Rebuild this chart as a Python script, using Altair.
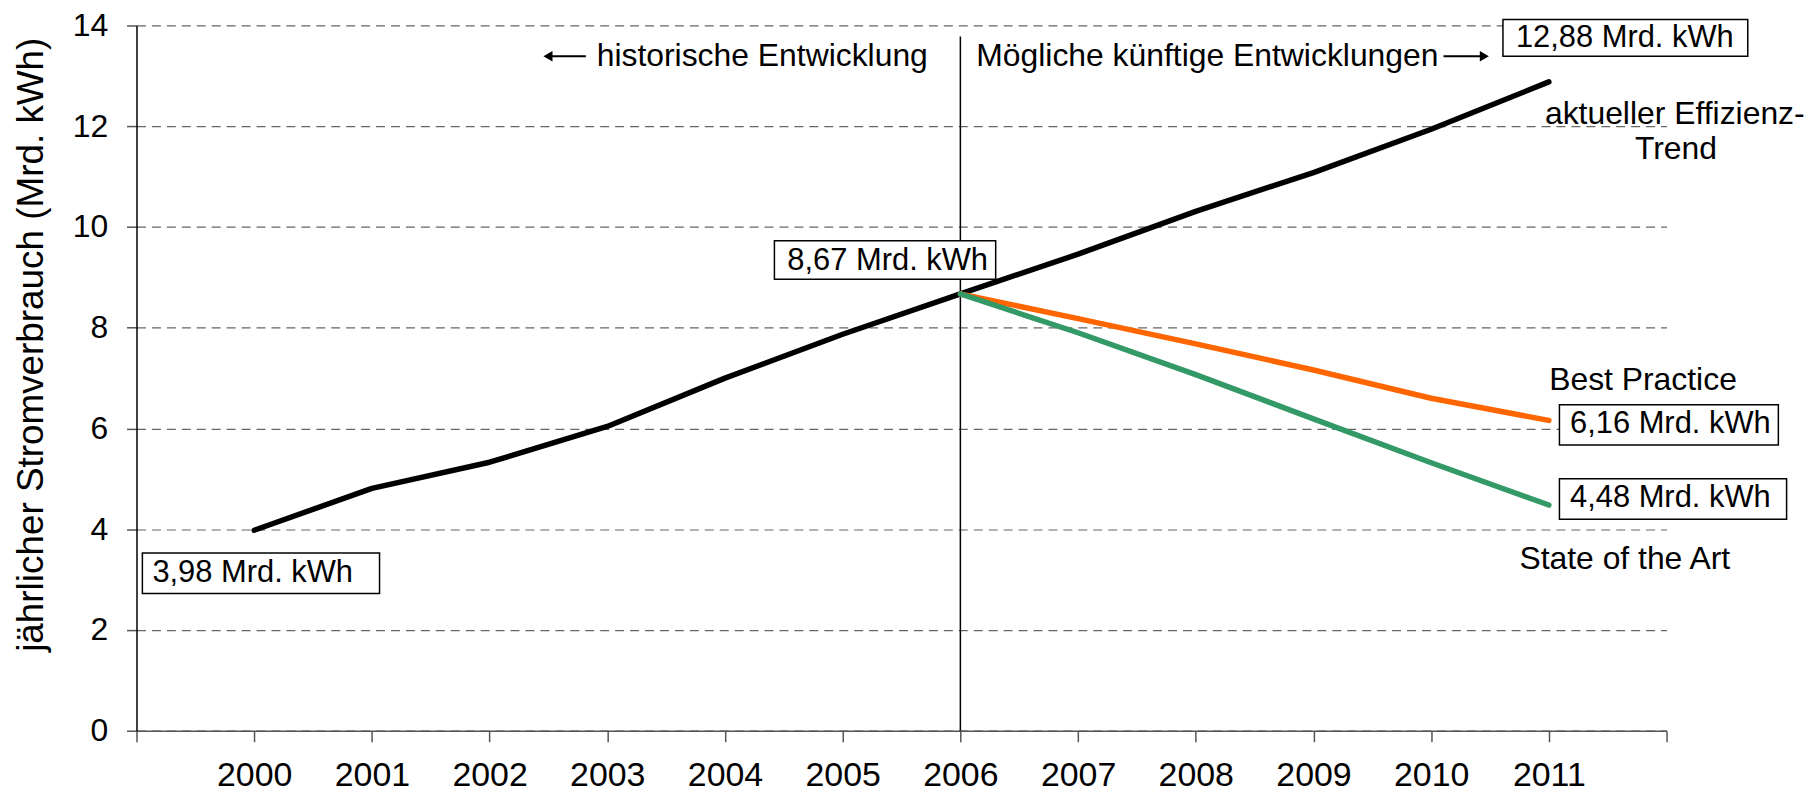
import altair as alt
import pandas as pd

# ---- data ----
years_hist = [2000, 2001, 2002, 2003, 2004, 2005, 2006, 2007, 2008, 2009, 2010, 2011]
trend_vals = [3.98, 4.81, 5.33, 6.04, 7.00, 7.87, 8.67, 9.46, 10.31, 11.08, 11.94, 12.88]
years_future = [2006, 2007, 2008, 2009, 2010, 2011]
best_vals = [8.67, 8.18, 7.68, 7.16, 6.60, 6.16]
art_vals = [8.67, 7.90, 7.07, 6.19, 5.32, 4.48]
series_names = ["Trend", "Best Practice", "State of the Art"]
series_colors = ["#000000", "#FF6600", "#339966"]

y_ticks = [0, 2, 4, 6, 8, 10, 12, 14]
x_ticks = list(range(1999, 2013))

# value boxes (data coordinates)
box_text = ["12,88 Mrd. kWh", "8,67 Mrd. kWh", "6,16 Mrd. kWh", "4,48 Mrd. kWh", "3,98 Mrd. kWh"]
box_x1 = [2010.61, 2004.42, 2011.09, 2011.09, 1999.05]
box_x2 = [2012.69, 2006.30, 2012.95, 2013.02, 2001.065]
box_y1 = [13.39, 8.96, 5.67, 4.196, 2.725]
box_y2 = [14.12, 9.725, 6.47, 5.00, 3.53]
box_tx = [2010.72, 2004.53, 2011.18, 2011.18, 1999.135]
box_ty = [13.76, 9.33, 6.08, 4.61, 3.14]

# centered labels
c_text = ["Best Practice", "State of the Art", "aktueller Effizienz-", "Trend"]
c_x = [2011.80, 2011.645, 2012.07, 2012.08]
c_y = [6.96, 3.41, 12.25, 11.55]

# left-aligned header labels
l_text = ["historische Entwicklung", "Mögliche künftige Entwicklungen"]
l_x = [2002.91, 2006.135]
l_y = [13.40, 13.40]

# arrows
arr_x1 = [2002.496, 2010.105]
arr_x2 = [2002.818, 2010.452]
arr_y = [13.39, 13.39]
arr_tip = [2002.496, 2010.452]
arr_shape = ["triangle-left", "triangle-right"]

# ---- tables ----
rows = []
for yr, v in zip(years_hist, trend_vals):
    rows.append({"year": yr, "value": v, "series": series_names[0], "ord": 0})
for yr, v in zip(years_future, best_vals):
    rows.append({"year": yr, "value": v, "series": series_names[1], "ord": 1})
for yr, v in zip(years_future, art_vals):
    rows.append({"year": yr, "value": v, "series": series_names[2], "ord": 2})
lines_df = pd.DataFrame(rows)

boxes_df = pd.DataFrame({"x1": box_x1, "x2": box_x2, "y1": box_y1, "y2": box_y2,
                         "tx": box_tx, "ty": box_ty, "text": box_text})
center_df = pd.DataFrame({"x": c_x, "y": c_y, "text": c_text})
left_df = pd.DataFrame({"x": l_x, "y": l_y, "text": l_text})
arrow_df = pd.DataFrame({"x1": arr_x1, "x2": arr_x2, "y": arr_y, "tip": arr_tip, "shape": arr_shape})
vline_df = pd.DataFrame({"x": [2006], "y1": [0], "y2": [13.78]})

xscale = alt.Scale(domain=[1999, 2012], nice=False, zero=False)
yscale = alt.Scale(domain=[0, 14], nice=False, zero=True)

FONT = "Liberation Sans"

x_axis = alt.Axis(values=x_ticks, format="d",
                  labelExpr="(datum.value < 2000 || datum.value > 2011) ? '' : datum.label",
                  grid=False, tickSize=11, tickColor="#555555", domainColor="#555555",
                  domainWidth=1.5, tickWidth=1.5,
                  labelFontSize=34, labelColor="black", labelFont=FONT,
                  labelPadding=44, labelBaseline="alphabetic", title=None)

y_axis = alt.Axis(values=y_ticks, format="d", grid=True, gridDash=[9, 6], gridColor="#666666",
                  gridWidth=1.2, tickSize=10, tickColor="#555555", domainColor="black",
                  domainWidth=1.5, tickWidth=1.5,
                  labelFontSize=32, labelColor="black", labelFont=FONT, labelPadding=19,
                  title="jährlicher Stromverbrauch (Mrd. kWh)", titleFontSize=37,
                  titleFontWeight="normal", titleFont=FONT, titleColor="black",
                  titleX=-105, titleY=320, titleAngle=270, titleAlign="center",
                  titleBaseline="middle")

base_lines = alt.Chart(lines_df).mark_line(strokeWidth=5.5, strokeCap="round", strokeJoin="round").encode(
    x=alt.X("year:Q", scale=xscale, axis=x_axis),
    y=alt.Y("value:Q", scale=yscale, axis=y_axis),
    color=alt.Color("series:N", scale=alt.Scale(domain=series_names, range=series_colors), legend=None),
    order=alt.Order("ord:Q"),
    detail="series:N",
)

vline = alt.Chart(vline_df).mark_rule(color="black", strokeWidth=1.5).encode(
    x=alt.X("x:Q", scale=xscale), y=alt.Y("y1:Q", scale=yscale), y2="y2:Q"
)

boxes = alt.Chart(boxes_df).mark_rect(fill="white", stroke="black", strokeWidth=1.5).encode(
    x=alt.X("x1:Q", scale=xscale), x2="x2:Q",
    y=alt.Y("y1:Q", scale=yscale), y2="y2:Q",
)
box_labels = alt.Chart(boxes_df).mark_text(align="left", baseline="middle", fontSize=31,
                                           font=FONT, color="black").encode(
    x=alt.X("tx:Q", scale=xscale), y=alt.Y("ty:Q", scale=yscale), text="text:N"
)

center_labels = alt.Chart(center_df).mark_text(align="center", baseline="middle", fontSize=32,
                                               font=FONT, color="black").encode(
    x=alt.X("x:Q", scale=xscale), y=alt.Y("y:Q", scale=yscale), text="text:N"
)
left_labels = alt.Chart(left_df).mark_text(align="left", baseline="middle", fontSize=32,
                                           font=FONT, color="black").encode(
    x=alt.X("x:Q", scale=xscale), y=alt.Y("y:Q", scale=yscale), text="text:N"
)

arrow_lines = alt.Chart(arrow_df).mark_rule(color="black", strokeWidth=2).encode(
    x=alt.X("x1:Q", scale=xscale), x2="x2:Q", y=alt.Y("y:Q", scale=yscale)
)
arrow_heads = alt.Chart(arrow_df).mark_point(filled=True, color="black", size=110, opacity=1).encode(
    x=alt.X("tip:Q", scale=xscale), y=alt.Y("y:Q", scale=yscale),
    shape=alt.Shape("shape:N", scale=None),
)

chart = alt.layer(
    vline, boxes, base_lines, box_labels, center_labels, left_labels, arrow_lines, arrow_heads
).properties(
    width=1536, height=708,
    autosize=alt.AutoSizeParams(type="none"),
    padding={"left": 129, "top": 16, "right": 140, "bottom": 64},
).configure(font=FONT).configure_view(stroke=None)

chart.save("out.html", embed_options={"renderer": "svg", "actions": False})
